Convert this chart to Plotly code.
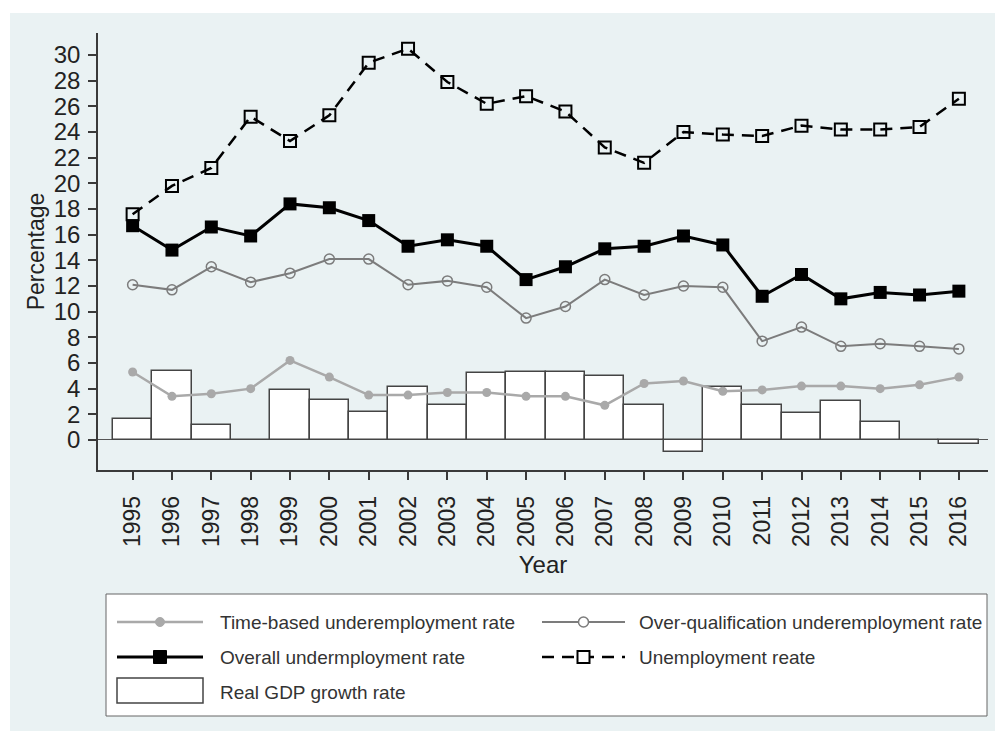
import plotly.graph_objects as go

# Years covered
years = list(range(1995, 2017))

# Rates in percent
time_based = [5.3, 3.4, 3.6, 4.0, 6.2, 4.9, 3.5, 3.5, 3.7, 3.7, 3.4,
              3.4, 2.7, 4.4, 4.6, 3.8, 3.9, 4.2, 4.2, 4.0, 4.3, 4.9]
over_qual = [12.1, 11.7, 13.5, 12.3, 13.0, 14.1, 14.1, 12.1, 12.4, 11.9, 9.5,
             10.4, 12.5, 11.3, 12.0, 11.9, 7.7, 8.8, 7.3, 7.5, 7.3, 7.1]
overall = [16.7, 14.8, 16.6, 15.9, 18.4, 18.1, 17.1, 15.1, 15.6, 15.1, 12.5,
           13.5, 14.9, 15.1, 15.9, 15.2, 11.2, 12.9, 11.0, 11.5, 11.3, 11.6]
unemployment = [17.6, 19.8, 21.2, 25.2, 23.3, 25.3, 29.4, 30.5, 27.9, 26.2, 26.8,
                25.6, 22.8, 21.6, 24.0, 23.8, 23.7, 24.5, 24.2, 24.2, 24.4, 26.6]
gdp_growth = [1.6, 5.4, 1.2, 0.0, 3.9, 3.1, 2.2, 4.1, 2.7, 5.2, 5.3,
              5.3, 5.0, 2.7, -0.9, 4.1, 2.7, 2.1, 3.0, 1.4, 0.0, -0.3]

y_ticks = list(range(0, 31, 2))

series_names = [
    "Time-based underemployment rate",
    "Over-qualification underemployment rate",
    "Overall undermployment rate",
    "Unemployment reate",
    "Real GDP growth rate",
]

BG = "#EAF2F3"
AXIS = "#3a3a3a"
TEXT = "#222222"
FONT = "Liberation Sans, Arial, sans-serif"

W, H = 1000, 731
ML, MR, MT, MB = 98, 12, 33, 261
PW, PH = W - ML - MR, H - MT - MB

# series styles, shared by the plotted traces and the key below the axes
styles = [
    dict(line=dict(color="#a9a9a9", width=2.5),
         marker=dict(symbol="circle", size=9, color="#a9a9a9")),
    dict(line=dict(color="#7c7c7c", width=2),
         marker=dict(symbol="circle-open", size=10, color="#7c7c7c", line=dict(width=1.5))),
    dict(line=dict(color="#000000", width=3),
         marker=dict(symbol="square", size=13, color="#000000")),
    dict(line=dict(color="#000000", width=2.5, dash="12px,8px"),
         marker=dict(symbol="square-open", size=12, color="#000000", line=dict(width=2))),
]
bar_style = dict(color="#ffffff", line=dict(color="#444444", width=1.5))

fig = go.Figure()

for name, vals, st in zip(series_names[:4],
                          [time_based, over_qual, overall, unemployment], styles):
    fig.add_trace(go.Scatter(x=years, y=vals, name=name, mode="lines+markers",
                             line=st["line"], marker=st["marker"]))

fig.add_trace(go.Bar(x=years, y=gdp_growth, name=series_names[4],
                     width=1.0, marker=bar_style))


def px(x):
    return (x - ML) / PW


def py(y):
    return (H - MB - y) / PH


# light bluish graph region behind the white plot region
fig.add_shape(type="rect", xref="paper", yref="paper",
              x0=px(10), x1=px(995), y0=py(731), y1=py(13),
              fillcolor=BG, line=dict(width=0), layer="below")

# ---- key box ----
fig.add_shape(type="rect", xref="paper", yref="paper",
              x0=px(106), x1=px(987), y0=py(716), y1=py(594),
              fillcolor="#ffffff", line=dict(color="#666666", width=1))

rows = [622, 657, 692]
cols = [(117, 203, 218), (542, 625, 637)]
slots = [(0, 0), (0, 1), (1, 0), (1, 1)]
KEY_FONT = dict(size=19, color="#333333", family=FONT)

for (r, c), name, st in zip(slots, series_names[:4], styles):
    yy = rows[r]
    x0, x1, xt = cols[c]
    ln = st["line"]
    fig.add_shape(type="line", xref="paper", yref="paper",
                  x0=px(x0), x1=px(x1), y0=py(yy), y1=py(yy),
                  line=dict(color=ln["color"], width=ln["width"],
                            dash=ln.get("dash", "solid")))
    mk = st["marker"]
    half = mk["size"] / 2
    xc = (x0 + x1) / 2
    open_marker = mk["symbol"].endswith("open")
    fig.add_shape(type="circle" if mk["symbol"].startswith("circle") else "rect",
                  xref="paper", yref="paper",
                  x0=px(xc - half), x1=px(xc + half),
                  y0=py(yy + half), y1=py(yy - half),
                  fillcolor="#ffffff" if open_marker else mk["color"],
                  line=dict(color=mk["color"],
                            width=mk.get("line", {}).get("width", 1)))
    fig.add_annotation(xref="paper", yref="paper", x=px(xt), y=py(yy),
                       text=name, showarrow=False, xanchor="left", yanchor="middle",
                       font=KEY_FONT)

# bar sample in the key
fig.add_shape(type="rect", xref="paper", yref="paper",
              x0=px(117), x1=px(203), y0=py(703), y1=py(678),
              fillcolor=bar_style["color"], line=bar_style["line"])
fig.add_annotation(xref="paper", yref="paper", x=px(218), y=py(rows[2]),
                   text=series_names[4], showarrow=False, xanchor="left", yanchor="middle",
                   font=KEY_FONT)

fig.update_layout(
    template="none",
    width=W, height=H,
    margin=dict(l=ML, r=MR, t=MT, b=MB, autoexpand=False),
    paper_bgcolor="#ffffff",
    plot_bgcolor="#ffffff",
    font=dict(family=FONT, color=TEXT),
    bargap=0,
    showlegend=False,
)

fig.update_xaxes(
    range=[1994.12, 2016.74], automargin=False,
    tickmode="array", tickvals=years, ticktext=[str(y) for y in years],
    tickangle=-90,
    ticks="outside", ticklen=8, tickwidth=1.5, tickcolor=AXIS,
    ticklabelstandoff=7,
    showline=True, linecolor=AXIS, linewidth=1.5,
    showgrid=False, zeroline=False,
    tickfont=dict(size=23, color=TEXT),
    title=dict(text="Year", font=dict(size=24, color=TEXT), standoff=10),
)

fig.update_yaxes(
    range=[-2.34, 31.72], automargin=False,
    tickmode="array", tickvals=y_ticks,
    ticks="outside", ticklen=8, tickwidth=1.5, tickcolor=AXIS,
    ticklabelstandoff=3,
    showline=True, linecolor=AXIS, linewidth=1.5,
    showgrid=True, gridcolor=BG, gridwidth=1.5,
    zeroline=True, zerolinecolor="#555555", zerolinewidth=1.3,
    tickfont=dict(size=24, color=TEXT),
    title=dict(text="Percentage", font=dict(size=23, color=TEXT), standoff=3),
)

fig.write_html("out.html")
